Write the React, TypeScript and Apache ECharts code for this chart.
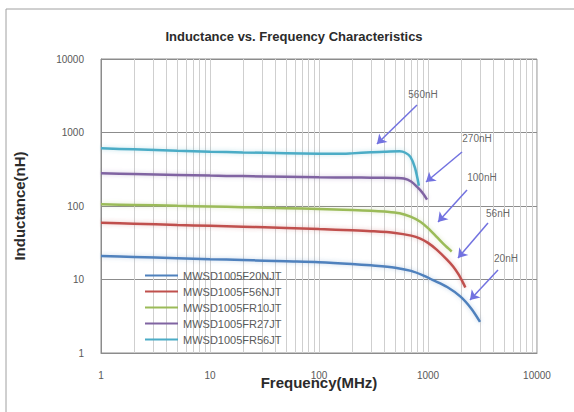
import React, { useEffect, useRef } from "react";
import * as echarts from "echarts";

const seriesNames = ["MWSD1005F20NJT", "MWSD1005F56NJT", "MWSD1005FR10JT", "MWSD1005FR27JT", "MWSD1005FR56JT"];
const seriesColors = ["#4F81BD", "#C0504D", "#9BBB59", "#8064A2", "#4BACC6"];

const freq20 = [1, 2, 5, 10, 20, 50, 100, 200, 300, 500, 700, 900, 1100, 1500, 2000, 2500, 3000];
const ind20 = [20.9, 20.3, 19.5, 18.9, 18.4, 17.7, 17.2, 16.3, 15.6, 14.5, 13.1, 11.4, 9.9, 7.9, 5.8, 4.0, 2.65];

const freq56 = [1, 2, 5, 10, 20, 50, 100, 200, 300, 500, 700, 850, 1000, 1200, 1500, 1700, 1900, 2100, 2200];
const ind56 = [59.3, 57.5, 55.2, 53.7, 52.2, 50.3, 48.5, 46.8, 45.5, 43, 39.5, 36, 31.5, 25.5, 18.5, 15, 11.8, 9, 7.8];

const freq100 = [1, 2, 5, 10, 20, 50, 100, 200, 300, 400, 550, 700, 850, 1000, 1200, 1400, 1650];
const ind100 = [105.5, 103.5, 100.5, 98.5, 96.5, 93.5, 91, 88.5, 86.5, 84, 79.5, 71, 61, 50, 38, 30, 24];

const freq270 = [1, 2, 5, 10, 20, 50, 100, 200, 300, 400, 500, 600, 700, 800, 900, 980];
const ind270 = [279, 272, 264, 259, 255, 250, 246, 244, 243, 242, 240, 236, 215, 180, 148, 122];

const freq560 = [1, 2, 5, 10, 20, 50, 100, 150, 200, 300, 400, 550, 620, 690, 760, 825];
const ind560 = [610, 590, 565, 548, 535, 522, 513, 512, 520, 537, 548, 555, 530, 465, 330, 188];

const seriesFreqs = [freq20, freq56, freq100, freq270, freq560];
const seriesInds = [ind20, ind56, ind100, ind270, ind560];

const yTickValues = [1, 10, 100, 1000, 10000];
const yTickLabels = ["1", "10", "100", "1000", "10000"];
const xTickValues = [1, 10, 100, 1000, 10000];
const xTickLabels = ["1", "10", "100", "1000", "10000"];

const minorDecades = [1, 10, 100, 1000];
const minorMultipliers = [2, 3, 4, 5, 6, 7, 8, 9];

const noteLabels = ["560nH", "270nH", "100nH", "56nH", "20nH"];
const noteFreq = [900, 2818, 3126, 4387, 5196];
const noteInd = [3240, 816, 248, 80.3, 19.6];
const arrowStartFreq = [793, 2051, 2279, 3550, 4387];
const arrowStartInd = [2366, 543, 165, 58.7, 13.5];
const arrowEndFreq = [340, 959, 1236, 1884, 2428];
const arrowEndInd = [698, 212, 60.6, 19.6, 5.26];

const FONT = "Liberation Sans, Arial, sans-serif";
const ARROW = "#7272e0";

function hexToRgba(hex: string, a: number) {
  const n = parseInt(hex.slice(1), 16);
  return `rgba(${(n >> 16) & 255},${(n >> 8) & 255},${n & 255},${a})`;
}

function labelFor(values: number[], labels: string[], v: number) {
  for (let i = 0; i < values.length; i++) {
    if (Math.abs(Math.log10(v) - Math.log10(values[i])) < 1e-6) return labels[i];
  }
  return "";
}

export default function App() {
  const ref = useRef<HTMLDivElement>(null);

  useEffect(() => {
    const chart = echarts.init(ref.current!, null, { renderer: "svg" });

    const minorLines: any[] = [];
    minorDecades.forEach((d) => minorMultipliers.forEach((m) => minorLines.push({ xAxis: d * m })));

    const lineSeries = seriesNames.map((name, i) => ({
      name,
      type: "line",
      data: seriesFreqs[i].map((f, j) => [f, seriesInds[i][j]]),
      showSymbol: false,
      symbol: "none",
      smooth: 0.3,
      z: 3,
      lineStyle: {
        color: seriesColors[i],
        width: 2.5,
        shadowBlur: 4,
        shadowColor: hexToRgba(seriesColors[i], 0.35),
      },
      itemStyle: { color: seriesColors[i] },
    }));

    const option: any = {
      animation: false,
      backgroundColor: "#ffffff",
      title: {
        text: "Inductance vs. Frequency Characteristics",
        left: 289,
        textAlign: "center",
        top: 25,
        textStyle: { fontFamily: FONT, fontSize: 13, fontWeight: "bold", color: "#2b2b2b" },
      },
      graphic: [
        {
          type: "rect",
          shape: { x: 6, y: 9, width: 640, height: 440 },
          style: { fill: "none", stroke: "#a0a0a0", lineWidth: 1 },
          silent: true,
        },
      ],
      grid: {
        left: 101,
        right: 37,
        top: 59,
        bottom: 59,
        show: true,
        borderColor: "#8c8c8c",
        borderWidth: 1,
        backgroundColor: "transparent",
      },
      legend: {
        data: seriesNames,
        orient: "vertical",
        left: 140,
        top: 265,
        icon: "rect",
        itemWidth: 33,
        itemHeight: 2,
        itemGap: 5,
        textStyle: { fontFamily: FONT, fontSize: 11, color: "#595959" },
      },
      xAxis: {
        type: "log",
        logBase: 10,
        min: 1,
        max: 10000,
        name: "Frequency(MHz)",
        nameLocation: "middle",
        nameGap: 22,
        nameMoveOverlap: false,
        nameTextStyle: { fontFamily: FONT, fontSize: 15, fontWeight: "bold", color: "#2b2b2b" },
        axisLine: { show: true, lineStyle: { color: "#8c8c8c" } },
        axisTick: { show: false },
        axisLabel: {
          margin: 17,
          fontFamily: FONT,
          fontSize: 10,
          color: "#595959",
          formatter: (v: number) => labelFor(xTickValues, xTickLabels, v),
        },
        splitLine: { show: true, lineStyle: { color: "#cfcfcf", width: 1 } },
      },
      yAxis: {
        type: "log",
        logBase: 10,
        min: 1,
        max: 10000,
        name: "Inductance(nH)",
        nameLocation: "middle",
        nameGap: 74,
        nameMoveOverlap: false,
        nameRotate: 90,
        nameTextStyle: { fontFamily: FONT, fontSize: 15, fontWeight: "bold", color: "#2b2b2b" },
        axisLine: { show: true, lineStyle: { color: "#8c8c8c" } },
        axisTick: { show: false },
        axisLabel: {
          margin: 17,
          fontFamily: FONT,
          fontSize: 10,
          color: "#595959",
          formatter: (v: number) => labelFor(yTickValues, yTickLabels, v),
        },
        splitLine: { show: true, lineStyle: { color: "#8c8c8c", width: 1 } },
      },
      series: [
        {
          name: "minorGrid",
          type: "line",
          data: [],
          silent: true,
          z: 1,
          markLine: {
            silent: true,
            z: 1,
            symbol: ["none", "none"],
            label: { show: false },
            lineStyle: { color: "#cfcfcf", width: 1, type: "solid" },
            emphasis: { disabled: true },
            data: minorLines,
          },
        },
        ...lineSeries,
        {
          name: "notes",
          type: "scatter",
          z: 4,
          symbol: "circle",
          symbolSize: 1,
          silent: true,
          itemStyle: { color: "rgba(0,0,0,0)" },
          label: {
            show: true,
            position: "inside",
            fontFamily: FONT,
            fontSize: 10,
            color: "#404040",
            formatter: "{b}",
          },
          data: noteLabels.map((n, i) => ({ name: n, value: [noteFreq[i], noteInd[i]] })),
          markLine: {
            silent: true,
            z: 4,
            symbol: ["none", "arrow"],
            symbolSize: 9,
            label: { show: false },
            itemStyle: { color: ARROW },
            lineStyle: { color: ARROW, width: 1.5, type: "solid" },
            emphasis: { disabled: true },
            data: arrowStartFreq.map((f, i) => [
              { coord: [f, arrowStartInd[i]], itemStyle: { color: ARROW } },
              { coord: [arrowEndFreq[i], arrowEndInd[i]], itemStyle: { color: ARROW } },
            ]),
          },
        },
      ],
    };

    chart.setOption(option);
    return () => chart.dispose();
  }, []);

  return (
    <div style={{ position: "fixed", left: 0, top: 0, width: 574, height: 412, background: "#fff" }}>
      <div ref={ref} style={{ width: 574, height: 412 }} />
    </div>
  );
}
